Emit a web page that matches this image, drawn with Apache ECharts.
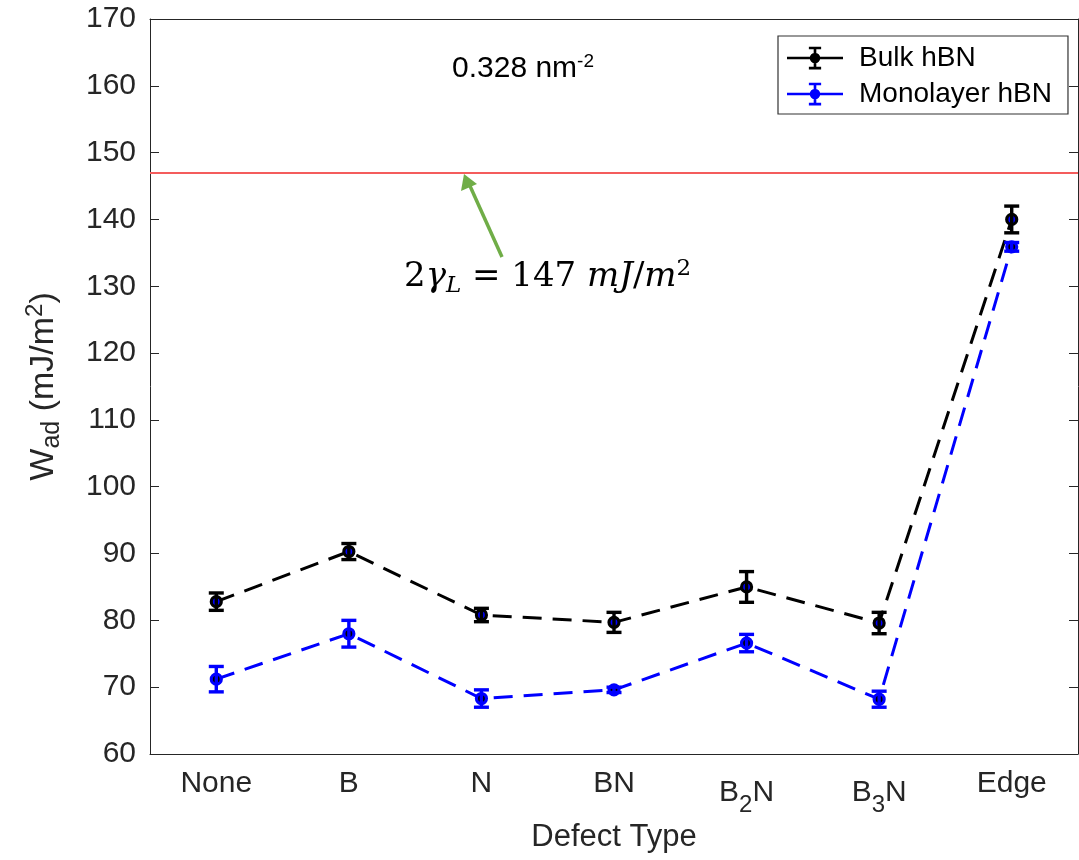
<!DOCTYPE html>
<html>
<head>
<meta charset="utf-8">
<script src="https://cdn.jsdelivr.net/npm/echarts@6/dist/echarts.min.js"></script>
<style>
  html, body { margin: 0; padding: 0; background: #fff; }
  #chart { width: 1079px; height: 860px; }
</style>
</head>
<body>
<div id="chart"></div>
<script>
// defect types along the x axis
const defectTypes = ['None', 'B', 'N', 'BN', 'B{sub|2}N', 'B{sub|3}N', 'Edge']

// W_ad values (mJ/m^2) and error half-widths
const bulkValues = [82.8, 90.3, 80.8, 79.7, 85.0, 79.6, 140.0]
const bulkErrors = [1.3, 1.2, 1.0, 1.5, 2.3, 1.6, 2.0]
const monoValues = [71.2, 78.0, 68.3, 69.6, 76.6, 68.2, 135.9]
const monoErrors = [1.9, 2.0, 1.3, 0.4, 1.3, 1.2, 0.65]

const liquidLine = 147  // 2*gamma_L

const yTicks = { min: 60, max: 170, interval: 10 }

const FONT = 'Liberation Sans, Arial, sans-serif'
const AXIS_COLOR = '#262626'

const chart = echarts.init(document.getElementById('chart'))

// error bar with caps, drawn through the axes
const errorBars = (vals, errs) => vals.map((v, i) => [i, v - errs[i], v + errs[i]])

const renderErrorBar = (color) => (params, api) => {
  const lo = api.coord([api.value(0), api.value(1)])
  const hi = api.coord([api.value(0), api.value(2)])
  const cap = 7.5
  const style = { stroke: color, lineWidth: 3.4 }
  return {
    type: 'group',
    children: [
      { type: 'line', shape: { x1: lo[0], y1: lo[1], x2: hi[0], y2: hi[1] }, style },
      { type: 'line', shape: { x1: lo[0] - cap, y1: lo[1], x2: lo[0] + cap, y2: lo[1] }, style },
      { type: 'line', shape: { x1: hi[0] - cap, y1: hi[1], x2: hi[0] + cap, y2: hi[1] }, style },
    ],
  }
}

// legend icon: line + error bar + marker
const legendIcon = 'path://M0,11.5H64V14.5H0Z M30.5,1H33.5V25H30.5Z M25,0H39V3H25Z M25,23H39V26H25Z M32,7A6,6 0 1 1 31.99,7Z'

chart.setOption({
  animation: false,
  grid: { left: 150, right: 1, top: 19, bottom: 106 },
  legend: {
    left: 778,
    top: 36,
    orient: 'vertical',
    padding: [8, 16, 6, 9],
    itemGap: 8,
    itemWidth: 56,
    itemHeight: 26,
    icon: legendIcon,
    borderColor: '#333',
    borderWidth: 1.2,
    backgroundColor: '#fff',
    textStyle: { fontFamily: FONT, fontSize: 28, color: '#000', padding: [0, 0, 0, 11] },
    data: [
      { name: 'Bulk hBN', itemStyle: { color: '#000', borderWidth: 0 } },
      { name: 'Monolayer hBN', itemStyle: { color: '#0000ff', borderWidth: 0 } },
    ],
  },
  xAxis: [
    {
      type: 'category',
      data: defectTypes,
      name: 'Defect Type',
      nameLocation: 'middle',
      nameGap: 66,
      nameTextStyle: { fontFamily: FONT, fontSize: 31, color: AXIS_COLOR },
      axisLine: { lineStyle: { color: AXIS_COLOR, width: 1 } },
      axisTick: { alignWithLabel: true, inside: true, length: 9, lineStyle: { color: AXIS_COLOR } },
      axisLabel: {
        interval: 0,
        fontFamily: FONT, fontSize: 30, color: AXIS_COLOR, margin: 15,
        rich: { sub: { fontFamily: FONT, fontSize: 24, color: AXIS_COLOR, padding: [24, 0, 0, 0] } },
      },
    },
    {
      type: 'category',
      data: defectTypes,
      position: 'top',
      axisLine: { lineStyle: { color: AXIS_COLOR, width: 1 } },
      axisTick: { alignWithLabel: true, inside: true, length: 9, lineStyle: { color: AXIS_COLOR } },
      axisLabel: { show: false },
    },
  ],
  yAxis: [
    {
      type: 'value',
      min: yTicks.min,
      max: yTicks.max,
      interval: yTicks.interval,
      name: 'W{sub|ad} (mJ/m{sup|2})',
      nameLocation: 'middle',
      nameGap: 85,
      nameTextStyle: {
        fontFamily: FONT, fontSize: 34, color: AXIS_COLOR,
        rich: {
          sub: { fontFamily: FONT, fontSize: 25, color: AXIS_COLOR, padding: [18, 0, 0, 0] },
          sup: { fontFamily: FONT, fontSize: 24, color: AXIS_COLOR, padding: [0, 0, 16, 0] },
        },
      },
      axisLine: { show: true, lineStyle: { color: AXIS_COLOR, width: 1 } },
      axisTick: { show: true, inside: true, length: 9, lineStyle: { color: AXIS_COLOR } },
      axisLabel: { fontFamily: FONT, fontSize: 30, color: AXIS_COLOR, margin: 14 },
      splitLine: { show: false },
    },
    {
      type: 'value',
      min: yTicks.min,
      max: yTicks.max,
      interval: yTicks.interval,
      position: 'right',
      axisLine: { show: true, lineStyle: { color: AXIS_COLOR, width: 1 } },
      axisTick: { show: true, inside: true, length: 9, lineStyle: { color: AXIS_COLOR } },
      axisLabel: { show: false },
      splitLine: { show: false },
    },
  ],
  series: [
    {
      name: 'Bulk hBN',
      type: 'line',
      data: bulkValues,
      z: 3,
      symbol: 'circle',
      symbolSize: 10,
      itemStyle: { color: '#0000ff', borderColor: '#000', borderWidth: 3.2 },
      lineStyle: { color: '#000', width: 3, type: [19, 11] },
      markLine: {
        silent: true,
        symbol: 'none',
        label: { show: false },
        lineStyle: { color: '#f45c5c', width: 2, type: 'solid' },
        data: [{ yAxis: liquidLine }],
      },
    },
    {
      name: 'Monolayer hBN',
      type: 'line',
      data: monoValues,
      z: 3,
      symbol: 'circle',
      symbolSize: 10,
      itemStyle: { color: '#000', borderColor: '#0000ff', borderWidth: 3.2 },
      lineStyle: { color: '#0000ff', width: 3, type: [19, 11] },
    },
    {
      type: 'custom',
      data: errorBars(bulkValues, bulkErrors),
      renderItem: renderErrorBar('#000'),
      z: 4,
    },
    {
      type: 'custom',
      data: errorBars(monoValues, monoErrors),
      renderItem: renderErrorBar('#0000ff'),
      z: 4,
    },
  ],
  graphic: [
    {
      type: 'text',
      left: 452,
      top: 52,
      style: {
        text: '0.328 nm{sup|-2}',
        font: '30px ' + FONT,
        fill: '#000',
        rich: { sup: { font: '19px ' + FONT, fill: '#000', padding: [0, 0, 14, 0] } },
      },
    },
    {
      type: 'line',
      shape: { x1: 502, y1: 257, x2: 470, y2: 186 },
      style: { stroke: '#70ad47', lineWidth: 3.5 },
    },
    {
      type: 'polygon',
      shape: { points: [[464, 174], [461, 191], [477, 184]] },
      style: { fill: '#70ad47' },
    },
    {
      type: 'text',
      left: 404,
      top: 258,
      style: {
        text: '2{it|γ}{sub|L} = 147 {it|mJ}/{it|m}{sup|2}',
        font: '34px "DejaVu Serif", "Liberation Serif", serif',
        fill: '#000',
        rich: {
          it: { font: 'italic 34px "DejaVu Serif", "Liberation Serif", serif', fill: '#000' },
          sub: { font: 'italic 23px "DejaVu Serif", "Liberation Serif", serif', fill: '#000', padding: [18, 0, 0, 0] },
          sup: { font: '23px "DejaVu Serif", "Liberation Serif", serif', fill: '#000', padding: [0, 0, 16, 0] },
        },
      },
    },
  ],
})
</script>
</body>
</html>
